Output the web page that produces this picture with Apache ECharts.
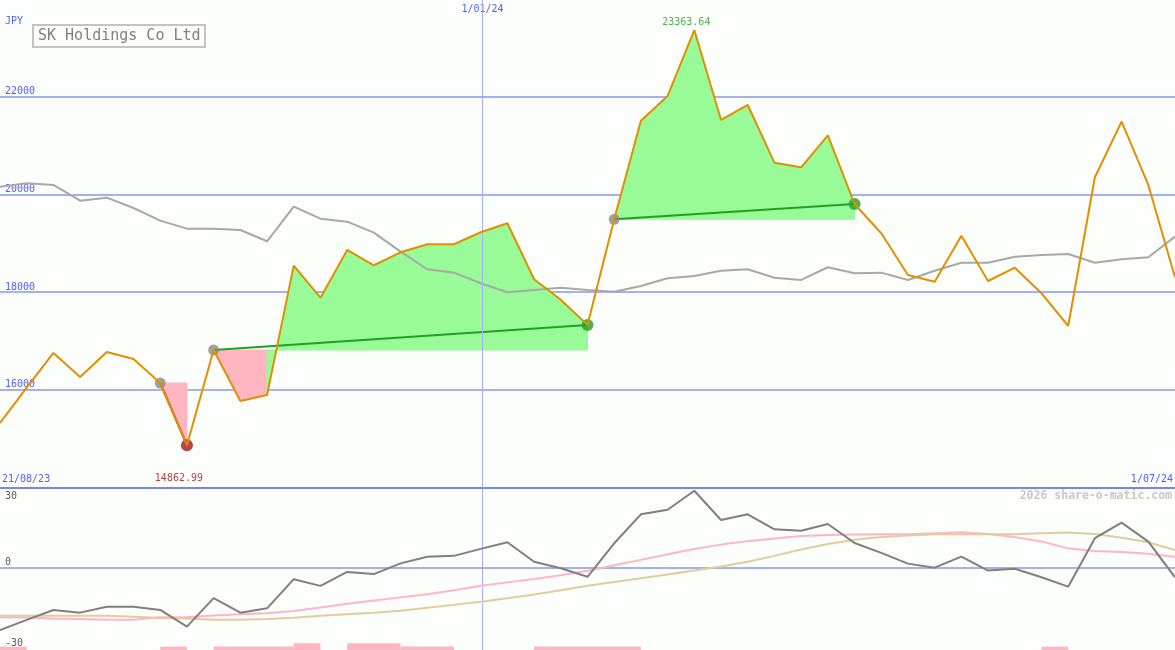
<!DOCTYPE html>
<html><head><meta charset="utf-8">
<script src="https://cdn.jsdelivr.net/npm/echarts@6/dist/echarts.min.js"></script>
<style>html,body{margin:0;padding:0;background:#fcfefc;}#c{width:1175px;height:650px;}</style>
</head><body><div id="c"></div>
<script>
// ---- data ----
const xEdgeLabels = ['21/08/23', '1/07/24'];      // labels at first / last point
const yearMarkLabel = '1/01/24';
const yearMarkPos = 18.07;                          // position of 1/01/24 in point units
const priceTicks = [16000, 18000, 20000, 22000];
const oscTicks = [-30, 0, 30];
const currency = 'JPY';
const titleText = 'SK Holdings Co Ltd';
const watermark = '2026 share-o-matic.com';

const price = [15317, 16040, 16751, 16259, 16771, 16627, 16136, 14862.99, 16811, 15768,
  15891, 18539, 17884, 18860, 18547, 18813, 18977, 18977, 19223, 19407,
  18260, 17840, 17324, 19489, 21508, 22014, 23363.64, 21523, 21830, 20648,
  20554, 21209, 19802, 19202, 18348, 18211, 19153, 18225, 18498, 17974,
  17304, 20349, 21488, 20192, 18301];
const compare = [20157, 20226, 20192, 19870, 19932, 19720, 19461, 19297, 19297, 19270,
  19038, 19747, 19501, 19440, 19215, 18826, 18465, 18396, 18178, 17994,
  18041, 18088, 18041, 18006, 18123, 18281, 18328, 18436, 18465, 18293,
  18246, 18506, 18383, 18396, 18246, 18436, 18600, 18600, 18723, 18758,
  18779, 18600, 18670, 18711, 19133];
const osc = [-23.3, -19.5, -15.8, -16.8, -14.6, -14.6, -15.8, -22.0, -11.4, -16.8,
  -15.2, -4.3, -6.8, -1.6, -2.4, 1.6, 4.1, 4.4, 7.0, 9.5,
  2.2, -0.2, -3.4, 9.1, 19.9, 21.6, 28.7, 17.8, 19.9, 14.3,
  13.8, 16.3, 9.2, 5.5, 1.5, 0.0, 4.1, -1.1, -0.4, -3.6,
  -7.1, 11.0, 16.8, 9.7, -3.6];
const oscFast = [-18.5, -18.6, -19.0, -19.2, -19.5, -19.5, -18.5, -18.4, -17.9, -17.4,
  -17.0, -16.2, -14.9, -13.5, -12.3, -11.1, -9.9, -8.4, -6.8, -5.5,
  -4.2, -2.8, -1.2, 0.9, 2.9, 5.0, 7.0, 8.6, 9.9, 10.9,
  11.8, 12.2, 12.4, 12.5, 12.5, 12.8, 13.2, 12.6, 11.4, 9.8,
  7.2, 6.2, 5.8, 5.2, 4.1];
const oscSlow = [-18.0, -18.0, -18.0, -18.0, -18.0, -18.3, -18.8, -19.0, -19.5, -19.5,
  -19.2, -18.7, -18.0, -17.4, -16.8, -16.1, -15.0, -13.9, -12.7, -11.4,
  -10.0, -8.4, -6.8, -5.4, -4.0, -2.6, -1.1, 0.4, 2.2, 4.4,
  6.8, 8.8, 10.4, 11.4, 12.0, 12.5, 12.5, 12.5, 12.5, 12.8,
  13.1, 12.6, 11.2, 9.5, 6.6];
// trends: [start index, end index]
const trends = [[6, 7], [8, 22], [23, 32]];
// signal bars: [start index, end index, level]
const signalBars = [[0, 1, 1], [6, 7, 1], [8, 11, 1], [11, 12, 2], [13, 15, 2], [15, 17, 1], [20, 24, 1], [39, 40, 1]];

// ---- derived ----
const N = price.length;
const last = N - 1;
const pricePts = price.map((v, i) => [i, v]);
const comparePts = compare.map((v, i) => [i, v]);
const oscPts = osc.map((v, i) => [i, v]);
const fastPts = oscFast.map((v, i) => [i, v]);
const slowPts = oscSlow.map((v, i) => [i, v]);

const fillSegs = [];
trends.forEach(([s, e]) => {
  const base = price[s];
  for (let i = s; i < e; i++) fillSegs.push([i, price[i], i + 1, price[i + 1], base]);
});
const trendLines = trends.map(([s, e]) => [s, price[s], e, price[e]]);
const startDots = trends.map(([s]) => [s, price[s]]);
const endDots = trends.map(([s, e]) => ({ value: [e, price[e]], itemStyle: { color: price[e] >= price[s] ? '#22a022' : '#a01818' } }));

let hi = 0, lo = 0;
price.forEach((v, i) => { if (v > price[hi]) hi = i; if (v < price[lo]) lo = i; });

const MONO = 'DejaVu Sans Mono';
const BLUE_TXT = '#4f5ff2';
const GRID_LINE = '#a4b0f4';
const SEP = '#7585ea';
const BG = '#fcfefc';
const plain = v => String(v);

const chart = echarts.init(document.getElementById('c'), null, { renderer: 'canvas' });
chart.setOption({
  animation: false,
  backgroundColor: BG,
  title: {
    text: titleText, left: 33, top: 25, borderColor: '#c4c4c4', borderWidth: 2, padding: [4, 5, 3, 5],
    textStyle: { fontFamily: MONO, fontSize: 15, color: '#808080', fontWeight: 'normal' }
  },
  graphic: [
    { type: 'text', left: 5, top: 16, style: { text: currency, fill: BLUE_TXT, font: '10px ' + MONO } },
    { type: 'text', right: 3, top: 490, style: { text: watermark, fill: '#c8c8c8', font: 'bold 11.5px ' + MONO } }
  ],
  grid: [
    { left: 0, right: 0, top: -1, height: 488.3, outerBoundsMode: 'none', containLabel: false },
    { left: 0, right: 0, top: 487.3, height: 162.7, outerBoundsMode: 'none', containLabel: false }
  ],
  xAxis: [
    { gridIndex: 0, type: 'value', min: 0, max: last, position: 'bottom',
      axisLine: { show: true, lineStyle: { color: SEP, width: 2 } }, axisTick: { show: false }, splitLine: { show: false },
      axisLabel: { inside: true, customValues: [0, last], formatter: v => v === 0 ? xEdgeLabels[0] : xEdgeLabels[1],
        alignMinLabel: 'left', alignMaxLabel: 'right', color: BLUE_TXT, fontFamily: MONO, fontSize: 10, margin: 3,
        padding: [0, 2, 0, 2] } },
    { gridIndex: 1, type: 'value', min: 0, max: last, show: false },
    { gridIndex: 0, type: 'value', min: 0, max: last, position: 'top',
      axisLine: { show: false }, axisTick: { show: false }, splitLine: { show: false },
      axisLabel: { inside: true, customValues: [yearMarkPos], formatter: () => yearMarkLabel, color: BLUE_TXT,
        fontFamily: MONO, fontSize: 10, margin: 4, backgroundColor: BG, padding: [1, 2, 4, 2] } }
  ],
  yAxis: [
    { gridIndex: 0, type: 'value', min: 14000, max: 24000, interval: 2000, position: 'left',
      axisLine: { show: false }, axisTick: { show: false },
      splitLine: { show: true, lineStyle: { color: GRID_LINE, width: 2 } },
      axisLabel: { inside: true, verticalAlign: 'bottom', showMinLabel: false, showMaxLabel: false, formatter: plain,
        color: BLUE_TXT, fontFamily: MONO, fontSize: 10, margin: 5 } },
    { gridIndex: 1, type: 'value', min: -30.75, max: 30, position: 'left', offset: 0,
      axisLine: { show: false }, axisTick: { show: false }, splitLine: { show: false },
      axisLabel: { inside: true, customValues: [oscTicks[0], oscTicks[1]], verticalAlign: 'bottom', formatter: plain,
        color: '#5a5a5a', fontFamily: MONO, fontSize: 10, margin: 5 } },
    { gridIndex: 1, type: 'value', min: -30.75, max: 30, position: 'left', offset: 0,
      axisLine: { show: false }, axisTick: { show: false }, splitLine: { show: false },
      axisLabel: { inside: true, customValues: [oscTicks[2]], verticalAlign: 'top', formatter: plain,
        color: '#5a5a5a', fontFamily: MONO, fontSize: 10, margin: 5, padding: [4, 0, 0, 0] } },
    { gridIndex: 1, type: 'value', min: 0, max: 48, position: 'right', show: false }
  ],
  series: [
    { type: 'custom', name: 'fill', xAxisIndex: 0, yAxisIndex: 0, data: fillSegs, z: 1, silent: true, clip: true,
      encode: { x: [0, 2], y: [1, 3, 4] },
      renderItem(p, api) {
        const x0 = api.value(0), y0 = api.value(1), x1 = api.value(2), y1 = api.value(3), b = api.value(4);
        const c = y1 >= b ? '#98fb98' : '#ffb6c1';
        return { type: 'polygon', shape: { points: [api.coord([x0, b]), api.coord([x0, y0]), api.coord([x1, y1]), api.coord([x1, b])] },
          style: { fill: c, stroke: c, lineWidth: 1 } };
      } },
    { type: 'line', name: 'compare', xAxisIndex: 0, yAxisIndex: 0, data: comparePts, symbol: 'none', z: 3,
      lineStyle: { color: '#a8a8a8', width: 2 },
      markLine: { symbol: 'none', silent: true, label: { show: false }, lineStyle: { color: GRID_LINE, width: 1, type: 'solid' },
        data: [{ xAxis: yearMarkPos }] } },
    { type: 'custom', name: 'trendLines', xAxisIndex: 0, yAxisIndex: 0, data: trendLines, z: 4, silent: true,
      encode: { x: [0, 2], y: [1, 3] },
      renderItem(p, api) {
        const a = api.coord([api.value(0), api.value(1)]), b = api.coord([api.value(2), api.value(3)]);
        return { type: 'line', shape: { x1: a[0], y1: a[1], x2: b[0], y2: b[1] },
          style: { stroke: api.value(3) >= api.value(1) ? '#22a022' : '#a01818', lineWidth: 2 } };
      } },
    { type: 'scatter', name: 'start', xAxisIndex: 0, yAxisIndex: 0, data: startDots, symbolSize: 11, z: 5,
      itemStyle: { color: '#888888' } },
    { type: 'scatter', name: 'end', xAxisIndex: 0, yAxisIndex: 0, data: endDots, symbolSize: 12, z: 5 },
    { type: 'line', name: 'price', xAxisIndex: 0, yAxisIndex: 0, data: pricePts, symbol: 'none', z: 6,
      lineStyle: { color: '#e09000', width: 2 } },
    { type: 'scatter', name: 'extremes', xAxisIndex: 0, yAxisIndex: 0, symbolSize: 0, z: 7,
      data: [
        { value: [hi, price[hi]], label: { show: true, position: 'top', distance: 3, offset: [-8, 0], color: '#22a022' } },
        { value: [lo, price[lo]], label: { show: true, position: 'bottom', distance: 28, offset: [-8, 0], color: '#a01010' } }
      ],
      label: { fontFamily: MONO, fontSize: 10, formatter: p => p.value[1].toFixed(2) } },
    { type: 'custom', name: 'signals', xAxisIndex: 1, yAxisIndex: 3, data: signalBars, z: 1, silent: true,
      encode: { x: [0, 1], y: 2 },
      renderItem(p, api) {
        const a = api.coord([api.value(0), api.value(2)]), b = api.coord([api.value(1), 0]);
        return { type: 'rect', shape: { x: a[0], y: a[1], width: b[0] - a[0], height: b[1] - a[1] }, style: { fill: '#ffb6c1' } };
      } },
    { type: 'line', name: 'fast', xAxisIndex: 1, yAxisIndex: 1, data: fastPts, symbol: 'none', z: 3,
      lineStyle: { color: '#ffb4c8', width: 2 } },
    { type: 'line', name: 'slow', xAxisIndex: 1, yAxisIndex: 1, data: slowPts, symbol: 'none', z: 3,
      lineStyle: { color: '#e2cc9e', width: 2 } },
    { type: 'line', name: 'osc', xAxisIndex: 1, yAxisIndex: 1, data: oscPts, symbol: 'none', z: 4,
      lineStyle: { color: '#7f7f7f', width: 2 },
      markLine: { symbol: 'none', silent: true, label: { show: false }, z: 2,
        data: [
          { xAxis: yearMarkPos, lineStyle: { color: GRID_LINE, width: 1, type: 'solid' } },
          { yAxis: 0, lineStyle: { color: GRID_LINE, width: 2, type: 'solid' } }
        ] } }
  ]
});
</script></body></html>
